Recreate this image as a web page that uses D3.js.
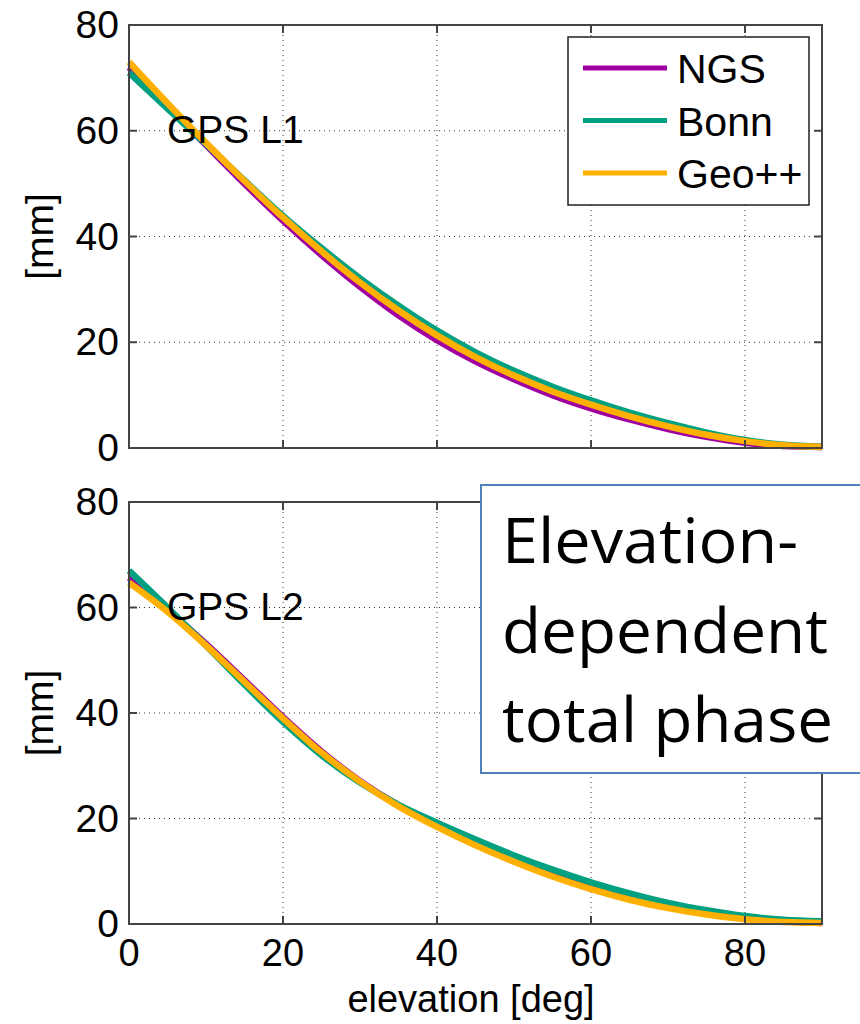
<!DOCTYPE html>
<html><head><meta charset="utf-8">
<script src="https://cdn.jsdelivr.net/npm/d3@7"></script>
<style>body{margin:0;background:#fff}svg{display:block}</style>
</head><body>
<svg id="c" width="860" height="1024"></svg>
<script>
const elevation = [0,5,10,15,20,25,30,35,40,45,50,55,60,65,70,75,80,85,90];
const L1_NGS  = [72,64.6,57.3,50.0,43.0,36.5,30.5,25.1,20.4,16.4,13.0,10.0,7.5,5.4,3.6,2.1,1.0,0.4,0.2];
const L1_Bonn = [71,64.2,57.5,50.6,43.9,37.8,32.1,26.9,22.2,18.1,14.6,11.6,9.0,6.7,4.7,2.9,1.5,0.6,0.2];
const L1_Geo  = [73,65.2,57.7,50.5,43.6,37.2,31.3,26.0,21.3,17.2,13.7,10.7,8.2,6.0,4.1,2.5,1.3,0.5,0.2];
const L2_NGS  = [65.7,59.6,53.1,46.2,39.2,32.7,27.1,22.5,18.7,15.3,12.2,9.5,7.1,5.1,3.4,2.1,1.1,0.5,0.2];
const L2_Bonn = [67,60.0,52.8,45.4,38.3,32.0,26.8,22.6,19.2,16.0,13.0,10.3,7.9,5.8,4.0,2.6,1.5,0.8,0.5];
const L2_Geo  = [64.7,59.2,52.8,45.9,39.0,32.5,27.0,22.3,18.4,14.9,11.8,9.0,6.6,4.6,3.0,1.8,0.9,0.4,0.2];
const seriesNames = ["NGS","Bonn","Geo++"];
const seriesColors = ["#a000a0","#00a080","#ffb000"];
const xTicks = [0,20,40,60,80];
const yTicks = [0,20,40,60,80];
const panelLabels = ["GPS L1","GPS L2"];
const boxLines = ["Elevation-","dependent","total phase"];

const svg = d3.select("#c");
const FONT = "'Liberation Sans', Arial, Helvetica, sans-serif";
const x = d3.scaleLinear().domain([0,90]).range([129,822]);
const panels = [
  {top:25, bottom:448, data:[L1_NGS,L1_Bonn,L1_Geo], label:panelLabels[0], labelY:143},
  {top:502, bottom:924, data:[L2_NGS,L2_Bonn,L2_Geo], label:panelLabels[1], labelY:620}
];
const axisCol = "#444";

panels.forEach((p,pi)=>{
  const y = d3.scaleLinear().domain([0,80]).range([p.bottom,p.top]);
  const g = svg.append("g");
  // grid
  g.selectAll(".gx").data(xTicks.filter(t=>t>0)).enter().append("line")
    .attr("x1",d=>x(d)).attr("x2",d=>x(d)).attr("y1",p.top).attr("y2",p.bottom)
    .attr("stroke","#333").attr("stroke-width",1).attr("stroke-dasharray","1,4");
  g.selectAll(".gy").data(yTicks.filter(t=>t>0&&t<80)).enter().append("line")
    .attr("y1",d=>y(d)).attr("y2",d=>y(d)).attr("x1",x(0)).attr("x2",x(90))
    .attr("stroke","#333").attr("stroke-width",1).attr("stroke-dasharray","1,4");
  // lines
  const line = d3.line().x((d,i)=>x(elevation[i])).y(d=>y(d)).curve(d3.curveCatmullRom);
  p.data.forEach((s,si)=>{
    g.append("path").datum(s).attr("d",line).attr("fill","none")
      .attr("stroke",seriesColors[si]).attr("stroke-width",6.5).attr("stroke-linejoin","round");
  });
  // frame
  g.append("rect").attr("x",x(0)).attr("y",p.top).attr("width",x(90)-x(0)).attr("height",p.bottom-p.top)
    .attr("fill","none").attr("stroke",axisCol).attr("stroke-width",2);
  // ticks inward on all sides
  xTicks.forEach(t=>{
    g.append("line").attr("x1",x(t)).attr("x2",x(t)).attr("y1",p.bottom).attr("y2",p.bottom-8).attr("stroke",axisCol).attr("stroke-width",2);
    g.append("line").attr("x1",x(t)).attr("x2",x(t)).attr("y1",p.top).attr("y2",p.top+8).attr("stroke",axisCol).attr("stroke-width",2);
  });
  yTicks.forEach(t=>{
    g.append("line").attr("x1",x(0)).attr("x2",x(0)+8).attr("y1",y(t)).attr("y2",y(t)).attr("stroke",axisCol).attr("stroke-width",2);
    g.append("line").attr("x1",x(90)).attr("x2",x(90)-8).attr("y1",y(t)).attr("y2",y(t)).attr("stroke",axisCol).attr("stroke-width",2);
  });
  // y tick labels
  g.selectAll(".yl").data(yTicks).enter().append("text")
    .attr("x",x(0)-10).attr("y",d=>y(d)+13).attr("text-anchor","end")
    .attr("font-family",FONT).attr("font-size",39).attr("fill","#000").text(d=>d);
  // y label
  const cy = (p.top+p.bottom)/2;
  g.append("text").attr("transform",`translate(53,${cy}) rotate(-90)`).attr("text-anchor","middle")
    .attr("font-family",FONT).attr("font-size",39).attr("fill","#000").text("[mm]");
  // panel label
  g.append("text").attr("x",167).attr("y",p.labelY).attr("font-family",FONT).attr("font-size",39).attr("fill","#000").text(p.label);
  if(pi===1){
    g.selectAll(".xl").data(xTicks).enter().append("text")
      .attr("x",d=>x(d)).attr("y",966).attr("text-anchor","middle")
      .attr("font-family",FONT).attr("font-size",38).attr("fill","#000").text(d=>d);
    g.append("text").attr("x",471).attr("y",1012).attr("text-anchor","middle")
      .attr("font-family",FONT).attr("font-size",38).attr("fill","#000").text("elevation [deg]");
  }
  if(pi===0){
    const lg = g.append("g");
    lg.append("rect").attr("x",568).attr("y",37).attr("width",241).attr("height",168)
      .attr("fill","#fff").attr("stroke","#222").attr("stroke-width",1.5);
    seriesNames.forEach((n,i)=>{
      const ly = 68 + i*52.5;
      lg.append("line").attr("x1",583).attr("x2",667).attr("y1",ly).attr("y2",ly)
        .attr("stroke",seriesColors[i]).attr("stroke-width",5);
      lg.append("text").attr("x",677).attr("y",ly+15).attr("font-family",FONT).attr("font-size",41).attr("fill","#000").text(n);
    });
  }
});

// annotation box
const bx = svg.append("g");
bx.append("rect").attr("x",481).attr("y",485).attr("width",400).attr("height",288)
  .attr("fill","#fff").attr("stroke","#4f81bd").attr("stroke-width",2);
const boxW = [296,326,331];
boxLines.forEach((t,i)=>{
  bx.append("text").attr("x",502).attr("y",563+i*89.5)
    .attr("font-family","'Open Sans','Noto Sans',sans-serif").attr("font-size",63).attr("fill","#000")
    .attr("textLength",boxW[i]).attr("lengthAdjust","spacingAndGlyphs").text(t);
});
</script>
</body></html>
